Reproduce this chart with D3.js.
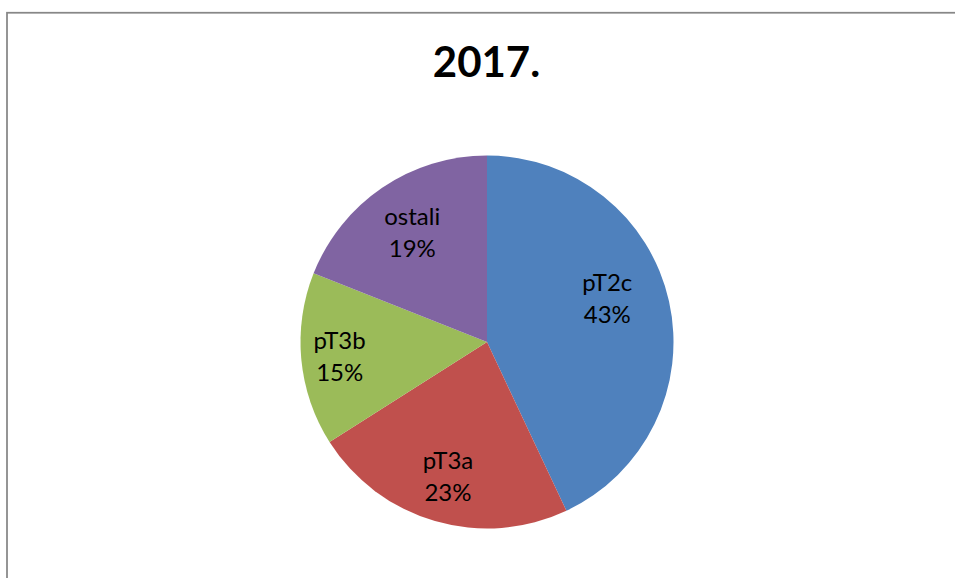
<!DOCTYPE html>
<html>
<head>
<meta charset="utf-8">
<script src="https://cdn.jsdelivr.net/npm/d3@7"></script>
<style>
  html, body { margin: 0; padding: 0; background: #fff; }
  svg { display: block; }
</style>
</head>
<body>
<svg id="chart" width="955" height="578"></svg>
<script>
const title = "2017.";
const categories = ["pT2c", "pT3a", "pT3b", "ostali"];
const values = [43, 23, 15, 19];
const colors = ["#4F81BD", "#C0504D", "#9BBB59", "#8064A2"];

// layout (not data)
const W = 955, H = 578;
const cx = 487, cy = 342, R = 186.5;
const labelRadius = { "pT2c": 128, "pT3a": 140, "pT3b": 148, "ostali": 133 };
const labelAngleShift = { "pT2c": -0.13, "pT3a": 0, "pT3b": 0, "ostali": 0 };

const svg = d3.select("#chart");

// chart area border (extends beyond the viewport on the right and bottom)
svg.append("rect")
  .attr("x", 7).attr("y", 12.75)
  .attr("width", 1200).attr("height", 1200)
  .attr("fill", "none")
  .attr("stroke", "#878787")
  .attr("stroke-width", 1.75);

svg.append("text")
  .attr("x", 486.5).attr("y", 77)
  .attr("text-anchor", "middle")
  .attr("font-family", "Lato, 'Open Sans', sans-serif")
  .attr("font-weight", "bold")
  .attr("font-size", 42)
  .attr("fill", "#000")
  .text(title);

const data = categories.map((c, i) => ({ cat: c, value: values[i], color: colors[i] }));

const pie = d3.pie().value(d => d.value).sort(null);
const arcs = pie(data);
const arc = d3.arc().innerRadius(0).outerRadius(R);

const g = svg.append("g").attr("transform", `translate(${cx},${cy})`);

g.selectAll("path.slice")
  .data(arcs)
  .enter().append("path")
  .attr("class", "slice")
  .attr("d", arc)
  .attr("fill", d => d.data.color);

const pct = d3.format(".0%");
const total = d3.sum(values);

const labels = g.selectAll("g.label")
  .data(arcs)
  .enter().append("g")
  .attr("class", "label")
  .attr("transform", d => {
    const a = (d.startAngle + d.endAngle) / 2 + labelAngleShift[d.data.cat];
    const r = labelRadius[d.data.cat];
    return `translate(${r * Math.sin(a)},${-r * Math.cos(a)})`;
  });

labels.append("text")
  .attr("text-anchor", "middle")
  .attr("font-family", "Lato, 'Open Sans', sans-serif")
  .attr("font-size", 24)
  .attr("fill", "#000")
  .attr("y", -7)
  .text(d => d.data.cat);

labels.append("text")
  .attr("text-anchor", "middle")
  .attr("font-family", "Lato, 'Open Sans', sans-serif")
  .attr("font-size", 24)
  .attr("fill", "#000")
  .attr("y", 25)
  .text(d => pct(d.data.value / total));
</script>
</body>
</html>
